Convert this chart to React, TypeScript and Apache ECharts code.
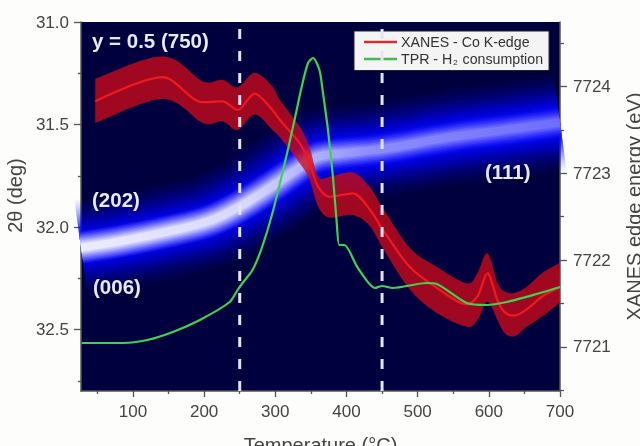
import React, { useEffect, useRef } from "react";
import * as echarts from "echarts";

const FONT = "'Liberation Sans', Arial, sans-serif";

const bandTemperature = [27, 82, 152, 208, 250, 292, 330, 358, 395, 449, 549, 615, 700];
const bandAngle = [32.1, 32.07, 32.02, 31.97, 31.9, 31.81, 31.72, 31.66, 31.64, 31.62, 31.56, 31.53, 31.49];

const xanesTemperature = [47, 142, 198, 226, 247, 271, 296, 306, 334, 348, 360, 376, 409, 433, 451, 489, 527, 569, 584, 598, 612, 622, 636, 653, 675, 700];
const xanesEnergy = [7723.83, 7724.11, 7723.82, 7723.83, 7723.73, 7723.92, 7723.73, 7723.62, 7723.35, 7723.12, 7722.85, 7722.73, 7722.77, 7722.58, 7722.35, 7721.92, 7721.68, 7721.49, 7721.58, 7721.85, 7721.54, 7721.4, 7721.36, 7721.43, 7721.58, 7721.69];
const xanesUpper = [7724.09, 7724.35, 7724.06, 7724.08, 7723.99, 7724.16, 7724.0, 7723.85, 7723.54, 7723.31, 7722.96, 7722.96, 7723.01, 7722.84, 7722.6, 7722.14, 7721.92, 7721.73, 7721.85, 7722.08, 7721.74, 7721.64, 7721.62, 7721.69, 7721.85, 7721.97];
const xanesLower = [7723.58, 7723.86, 7723.58, 7723.6, 7723.5, 7723.68, 7723.5, 7723.42, 7723.12, 7722.93, 7722.62, 7722.49, 7722.52, 7722.39, 7722.14, 7721.66, 7721.39, 7721.23, 7721.31, 7721.52, 7721.31, 7721.16, 7721.12, 7721.23, 7721.35, 7721.51];

const tprTemperature = [28, 86, 120, 156, 194, 236, 247, 254, 268, 281, 296, 316, 327, 337, 346, 353, 362, 367, 374, 381, 386, 390, 397, 416, 440, 450, 465, 512, 527, 569, 597, 625, 667, 700];
const tprSignal = [48, 48, 51, 59, 71, 89, 101, 108, 121, 143, 178, 236, 271, 304, 328, 333, 321, 298, 261, 214, 171, 146, 146, 123, 103, 105, 103, 108, 107, 88, 86, 89, 97, 104];

const regionLimits = [250, 450];

const xMajorTicks = [100, 200, 300, 400, 500, 600, 700];
const xMinorTicks = [50, 150, 250, 350, 450, 550, 650];
const leftMajorTicks = [31, 31.5, 32, 32.5];
const leftMinorTicks = [31.25, 31.75, 32.25, 32.75];
const rightMajorTicks = [7721, 7722, 7723, 7724];
const rightMinorTicks = [7720.5, 7721.5, 7722.5, 7723.5, 7724.5];

const X_MIN = 27, X_MAX = 700;
const L_MIN = 31, L_MAX = 32.8;
const R_MIN = 7720.49, R_MAX = 7724.745;

const XANES_NAME = "XANES - Co K-edge";
const TPR_NAME = "TPR - H2 consumption";

const horizontal = (stops: [number, string][]) => ({
  type: "linear", x: 0, y: 0, x2: 1, y2: 0,
  colorStops: stops.map(([offset, color]) => ({ offset, color })),
});

// Soft diffraction streak: one band centre stroked in many nested translucent widths.
const streakLayers: [number, any][] = [];
for (let w = 96; w >= 34; w -= 4) {
  const k = (96 - w) / 62;
  streakLayers.push([w, `rgba(0,8,255,${(0.035 + 0.2 * k * k).toFixed(3)})`]);
}
for (let w = 32; w >= 6; w -= 3) {
  const k = (32 - w) / 26;
  const left = Math.round(40 + 215 * k);
  const right = Math.round(10 + 130 * k);
  streakLayers.push([w, horizontal([
    [0, `rgba(${left},${left},255,${(0.55 + 0.4 * k).toFixed(2)})`],
    [0.35, `rgba(${Math.round(left * 0.93)},${Math.round(left * 0.93)},255,${(0.5 + 0.3 * k).toFixed(2)})`],
    [0.6, `rgba(${Math.round(right * 1.2)},${Math.round(right * 1.2)},255,${(0.35 + 0.25 * k).toFixed(2)})`],
    [1, `rgba(${right},${right},255,${(0.3 + 0.15 * k).toFixed(2)})`],
  ])]);
}

const zip = (xs: number[], ys: number[]) => xs.map((x, i) => [x, ys[i]]);

// Smooth pixel outline through data points that the axes have already placed.
const spline = (p: number[][]) => {
  const out: number[][] = [];
  for (let i = 0; i < p.length - 1; i++) {
    const a = p[Math.max(i - 1, 0)], b = p[i], c = p[i + 1], d = p[Math.min(i + 2, p.length - 1)];
    for (let s = 0; s < 6; s++) {
      const t = s / 6, t2 = t * t, t3 = t2 * t;
      out.push([0, 1].map((k) =>
        0.5 * (2 * b[k] + (c[k] - a[k]) * t + (2 * a[k] - 5 * b[k] + 4 * c[k] - d[k]) * t2 + (3 * b[k] - a[k] - 3 * c[k] + d[k]) * t3)));
    }
  }
  out.push(p[p.length - 1]);
  return out;
};

const App = () => {
  const ref = useRef<HTMLDivElement>(null);
  useEffect(() => {
    const chart = echarts.init(ref.current!, null, { renderer: "svg" });
    const tickColor = "#555";
    const labelColor = "#444";
    const axisLine = { lineStyle: { color: tickColor, width: 1.5 } };
    const annotate = (text: string, x: number, y: number) => ({
      type: "text", x, y, z: 20,
      style: { text, fill: "#e9e9f6", font: `bold 20.5px ${FONT}`, textVerticalAlign: "middle" },
    });
    chart.setOption({
      animation: false,
      backgroundColor: "#fdfdfb",
      textStyle: { fontFamily: FONT },
      grid: {
        left: 81, right: 80, top: 22, bottom: 55, show: true, outerBoundsMode: "none",
        backgroundColor: "#00003f", borderWidth: 0,
      },
      legend: {
        left: 354, top: 31, orient: "vertical", itemWidth: 33, itemHeight: 2.5, itemGap: 3,
        padding: [4, 6, 4, 10], backgroundColor: "#f4f4f4", borderColor: "#222", borderWidth: 1,
        borderRadius: 0, icon: "rect", selectedMode: false,
        data: [
          { name: XANES_NAME, itemStyle: { color: "#cf3030" } },
          { name: TPR_NAME, itemStyle: { color: "#45b855" } },
        ],
        formatter: (n: string) => n === TPR_NAME ? "{a|TPR - H}{s|2}{a| consumption}" : `{a|${n}}`,
        textStyle: {
          color: "#333", fontSize: 14, padding: [0, 0, 0, -1],
          rich: {
            a: { fontSize: 14.2, color: "#333", fontFamily: FONT },
            s: { fontSize: 8, color: "#333", fontFamily: FONT, verticalAlign: "bottom", padding: [7, 1, 0, 1] },
          },
        },
      },
      xAxis: [
        {
          type: "value", min: X_MIN, max: X_MAX, position: "bottom", splitLine: { show: false },
          name: "Temperature (°C)", nameLocation: "middle", nameGap: 44,
          nameTextStyle: { fontSize: 20, color: labelColor, fontFamily: FONT },
          axisLine,
          axisTick: { show: true, length: 6, lineStyle: { color: tickColor, width: 1.3 }, customValues: xMajorTicks },
          axisLabel: { color: labelColor, fontSize: 17, margin: 12, customValues: xMajorTicks, fontFamily: FONT },
        },
        {
          type: "value", min: X_MIN, max: X_MAX, position: "bottom", splitLine: { show: false },
          axisLine: { show: false }, axisLabel: { show: false },
          axisTick: { show: true, length: 3, lineStyle: { color: tickColor, width: 1.3 }, customValues: xMinorTicks },
        },
      ],
      yAxis: [
        {
          type: "value", inverse: true, min: L_MIN, max: L_MAX, position: "left", splitLine: { show: false },
          name: "2θ (deg)", nameLocation: "middle", nameGap: 52,
          nameTextStyle: { fontSize: 20, color: labelColor, fontFamily: FONT, padding: [0, 0, 0, 22] },
          axisLine: { show: true, ...axisLine },
          axisTick: { show: true, length: 7, lineStyle: { color: tickColor, width: 1.3 }, customValues: leftMajorTicks },
          axisLabel: {
            color: labelColor, fontSize: 17, margin: 12, customValues: leftMajorTicks, fontFamily: FONT,
            formatter: (v: number) => v.toFixed(1),
          },
        },
        {
          type: "value", min: R_MIN, max: R_MAX, position: "right", splitLine: { show: false },
          name: "XANES edge energy (eV)", nameLocation: "middle", nameGap: 64, nameRotate: 90,
          nameTextStyle: { fontSize: 20, color: labelColor, fontFamily: FONT },
          axisLine: { show: true, ...axisLine },
          axisTick: { show: true, length: 7, lineStyle: { color: tickColor, width: 1.3 }, customValues: rightMajorTicks },
          axisLabel: {
            color: labelColor, fontSize: 17, margin: 13, customValues: rightMajorTicks, fontFamily: FONT,
            formatter: (v: number) => String(v),
          },
        },
        {
          type: "value", inverse: true, min: L_MIN, max: L_MAX, position: "left", splitLine: { show: false },
          axisLine: { show: false }, axisLabel: { show: false },
          axisTick: { show: true, length: 3, lineStyle: { color: tickColor, width: 1.3 }, customValues: leftMinorTicks },
        },
        {
          type: "value", min: R_MIN, max: R_MAX, position: "right", splitLine: { show: false },
          axisLine: { show: false }, axisLabel: { show: false },
          axisTick: { show: true, length: 4, lineStyle: { color: tickColor, width: 1.3 }, customValues: rightMinorTicks },
        },
        { type: "value", min: 0, max: 369, show: false, splitLine: { show: false } },
      ],
      series: [
        ...streakLayers.map(([width, color], i) => ({
          type: "line", name: `streak${i}`, xAxisIndex: 0, yAxisIndex: 0, data: zip(bandTemperature, bandAngle),
          smooth: 0.4, symbol: "none", silent: true, z: 1,
          lineStyle: { width, color, cap: "butt" },
        })),
        {
          type: "custom", name: "XANES spread", xAxisIndex: 0, yAxisIndex: 1, z: 3, silent: true,
          coordinateSystem: "cartesian2d",
          data: zip(xanesTemperature, xanesEnergy),
          renderItem: (params: any, api: any) => {
            if (params.dataIndex !== 0) return null;
            const upper = spline(xanesTemperature.map((t, i) => api.coord([t, xanesUpper[i]])));
            const lower = spline(xanesTemperature.map((t, i) => api.coord([t, xanesLower[i]])));
            return {
              type: "polygon",
              shape: { points: [...upper, ...lower.reverse()] },
              style: { fill: "#cd0a19", opacity: 0.78 },
            };
          },
        },
        {
          type: "line", name: XANES_NAME, xAxisIndex: 0, yAxisIndex: 1, z: 4,
          data: zip(xanesTemperature, xanesEnergy), smooth: 0.3, symbol: "none",
          lineStyle: { color: "#f2181c", width: 2.2 },
        },
        ...regionLimits.map((t, i) => ({
          type: "line", name: `limit${i}`, xAxisIndex: 0, yAxisIndex: 0, z: 5, silent: true,
          data: [[t, L_MAX], [t, L_MIN]], symbol: "none",
          lineStyle: { color: "#e4e4f4", width: 3, type: [10, 12] },
        })),
        {
          type: "line", name: TPR_NAME, xAxisIndex: 0, yAxisIndex: 4, z: 6,
          data: zip(tprTemperature, tprSignal), smooth: 0.25, symbol: "none",
          lineStyle: { color: "#3dd24f", width: 2.2 },
        },
      ],
      graphic: [
        annotate("y = 0.5 (750)", 92, 40),
        annotate("(202)", 92, 199),
        annotate("(006)", 93, 286),
        annotate("(111)", 485, 171),
      ],
    });
    return () => chart.dispose();
  }, []);
  return <div ref={ref} style={{ position: "fixed", left: 0, top: 0, width: 640, height: 446, filter: "blur(0.5px)" }} />;
};

export default App;
